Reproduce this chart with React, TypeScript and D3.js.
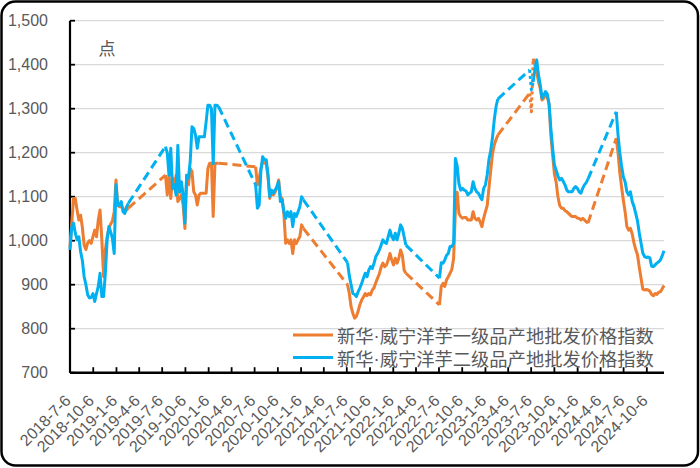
import React from 'react';
import * as d3 from 'd3';

// weekly index values, one array per season (season start dates below)
const seasonStarts = ['2018-07-06', '2019-07-19', '2020-07-10', '2021-07-09', '2022-07-08', '2023-06-30', '2024-06-07'];

const orange2018 = [985, 1040, 1096, 1096, 1070, 1047, 1058, 1030, 990, 980, 995, 1000, 994, 1010, 1024, 1009, 1047, 1070, 1002, 918, 979, 1009, 1028, 1038, 1045, 1066, 1138, 1081, 1077, 1077, 1074, 1066, 1070, 1074];
const orange2019 = [1149, 1104, 1149, 1096, 1142, 1119, 1149, 1089, 1096, 1104, 1081, 1028, 1149, 1127, 1164, 1157, 1111, 1104, 1081, 1104, 1108, 1108, 1108, 1108, 1164, 1176, 1176, 1055, 1176, 1176, 1176];
const orange2020 = [1168, 1127, 1142, 1164, 1180, 1176, 1176, 1145, 1096, 1110, 1104, 1110, 1120, 1138, 1100, 1096, 1060, 994, 1002, 994, 1002, 971, 1002, 994, 1002, 1009, 1036, 1028];
const orange2021 = [900, 880, 850, 835, 824, 828, 840, 855, 865, 872, 880, 875, 880, 877, 888, 893, 905, 915, 925, 940, 949, 941, 945, 956, 971, 956, 945, 960, 949, 960, 979, 967, 933, 926];
const orange2022 = [854, 896, 903, 896, 911, 918, 926, 935, 960, 1070, 1110, 1062, 1055, 1051, 1053, 1053, 1047, 1047, 1047, 1066, 1051, 1047, 1051, 1043, 1032, 1051, 1066, 1080, 1120, 1160, 1198, 1218, 1230, 1240];
const orange2023 = [1335, 1293, 1414, 1399, 1384, 1361, 1346, 1320, 1324, 1331, 1327, 1310, 1240, 1195, 1152, 1133, 1100, 1080, 1074, 1074, 1068, 1066, 1062, 1058, 1055, 1055, 1055, 1051, 1051, 1047, 1051, 1047, 1043, 1040];
const orange2024 = [1233, 1200, 1155, 1122, 1092, 1066, 1032, 1024, 1028, 1016, 995, 980, 968, 940, 915, 890, 888, 889, 888, 885, 878, 875, 880, 878, 883, 884, 891, 898];

const blue2018 = [979, 1032, 1040, 1017, 1002, 1009, 975, 955, 918, 900, 877, 870, 871, 880, 862, 880, 896, 926, 873, 873, 926, 1002, 1032, 1020, 1005, 971, 1127, 1080, 1081, 1089, 1066, 1062, 1077, 1085];
const blue2019 = [1214, 1200, 1149, 1210, 1119, 1127, 1104, 1217, 1110, 1134, 1104, 1040, 1149, 1142, 1180, 1259, 1255, 1240, 1210, 1236, 1236, 1236, 1236, 1270, 1308, 1308, 1300, 1175, 1308, 1308, 1305];
const blue2020 = [1127, 1074, 1081, 1160, 1191, 1184, 1184, 1150, 1100, 1115, 1108, 1115, 1123, 1134, 1089, 1093, 1066, 1051, 1066, 1055, 1066, 1032, 1062, 1055, 1066, 1077, 1100, 1093];
const blue2021 = [950, 920, 900, 880, 878, 873, 884, 893, 903, 915, 926, 918, 933, 941, 937, 949, 964, 971, 979, 990, 1002, 996, 994, 1009, 1024, 1009, 1002, 1017, 1002, 1017, 1036, 1028, 1009, 990];
const blue2022 = [915, 950, 949, 956, 967, 971, 987, 987, 994, 1187, 1170, 1130, 1115, 1119, 1115, 1113, 1104, 1108, 1111, 1134, 1119, 1111, 1108, 1100, 1093, 1119, 1127, 1150, 1185, 1205, 1235, 1275, 1305, 1322];
const blue2023 = [1388, 1343, 1361, 1390, 1411, 1377, 1354, 1324, 1331, 1339, 1333, 1310, 1255, 1210, 1172, 1160, 1147, 1138, 1142, 1135, 1127, 1115, 1111, 1111, 1111, 1119, 1123, 1119, 1111, 1108, 1119, 1127, 1132, 1140];
const blue2024 = [1293, 1240, 1200, 1170, 1145, 1134, 1111, 1104, 1111, 1089, 1078, 1062, 1045, 1018, 995, 972, 964, 962, 963, 961, 942, 941, 945, 949, 952, 956, 966, 977];

const orangeSeasons = [orange2018, orange2019, orange2020, orange2021, orange2022, orange2023, orange2024];
const blueSeasons = [blue2018, blue2019, blue2020, blue2021, blue2022, blue2023, blue2024];

// the short stretch drawn with a dotted line
const dottedSpan = ['2023-06-30', '2023-07-14'];

const tickLabels = ['2018-7-6', '2018-10-6', '2019-1-6', '2019-4-6', '2019-7-6', '2019-10-6', '2020-1-6', '2020-4-6', '2020-7-6', '2020-10-6', '2021-1-6', '2021-4-6', '2021-7-6', '2021-10-6', '2022-1-6', '2022-4-6', '2022-7-6', '2022-10-6', '2023-1-6', '2023-4-6', '2023-7-6', '2023-10-6', '2024-1-6', '2024-4-6', '2024-7-6', '2024-10-6'];
const yTicks = [700, 800, 900, 1000, 1100, 1200, 1300, 1400, 1500];
const seriesNames = ['新华·威宁洋芋一级品产地批发价格指数', '新华·威宁洋芋二级品产地批发价格指数'];
const seriesColors = ['#ED7D31', '#00B0F0'];
const unitLabel = '点';

type P = { date: Date; value: number };

const parseDate = (s: string) => {
	const [yy, mm, dd] = s.split('-').map(Number);
	return new Date(yy, mm - 1, dd);
};

const toSeasons = (seasons: number[][]): P[][] =>
	seasons.map((vals, i) => {
		const start = parseDate(seasonStarts[i]);
		return vals.map((v, j) => ({ date: d3.timeDay.offset(start, 7 * j), value: v }));
	});

const fmt = d3.format(',');

export default function App() {
	const width = 700;
	const height = 468;
	const margin = { left: 70, right: 36, top: 20.7, bottom: 95.3 };

	const series = [toSeasons(orangeSeasons), toSeasons(blueSeasons)];
	const allDates = series.flat(2).map(p => p.date);

	const x = d3.scaleTime()
		.domain(d3.extent(allDates) as [Date, Date])
		.range([margin.left, width - margin.right]);

	const y = d3.scaleLinear()
		.domain([700, 1500])
		.range([height - margin.bottom, margin.top]);

	const line = d3.line<P>()
		.x(p => x(p.date))
		.y(p => y(p.value));

	const dotStart = parseDate(dottedSpan[0]);
	const dotEnd = parseDate(dottedSpan[1]);
	const font = '"Liberation Sans", Arial, sans-serif';
	const cjk = '"Noto Sans CJK SC", "Noto Sans", sans-serif';
	const gray = '#595959';
	const x0 = margin.left;
	const x1 = width - margin.right;
	const yBase = y(700);

	return (
		<svg width={width} height={height} style={{ position: 'absolute', left: 0, top: 0, background: '#fff' }}>
			<rect x={1.5} y={1.5} width={696.5} height={464} rx={14} fill="#fff" stroke="#000" strokeWidth={2.5} />

			{/* gridlines */}
			{yTicks.filter(t => t > 700).map(t => (
				<line key={t} x1={x0} x2={x1} y1={y(t)} y2={y(t)} stroke="#D9D9D9" strokeWidth={1.3} />
			))}

			{/* y axis */}
			<line x1={x0} x2={x0} y1={y(1500)} y2={yBase} stroke="#000" strokeWidth={2.2} />
			{yTicks.map(t => (
				<g key={t}>
					<line x1={x0} x2={x0 + 5} y1={y(t)} y2={y(t)} stroke="#000" strokeWidth={1.8} />
					<text x={48} y={y(t)} textAnchor="end" dominantBaseline="central" fontFamily={font} fontSize={16} fill={gray}>{fmt(t)}</text>
				</g>
			))}

			{/* x axis */}
			<line x1={x0} x2={x1} y1={yBase} y2={yBase} stroke="#000" strokeWidth={2.5} />
			{tickLabels.map(t => {
				const tx = x(parseDate(t));
				return (
					<g key={t}>
						<line x1={tx} x2={tx} y1={yBase} y2={yBase - 5.5} stroke="#000" strokeWidth={1.8} />
						<text transform={`translate(${tx - 2},${yBase + 25}) rotate(-45)`} textAnchor="end" dominantBaseline="central" fontFamily={font} fontSize={16} fill={gray}>{t}</text>
					</g>
				);
			})}

			<text x={107} y={47} textAnchor="middle" dominantBaseline="central" fontFamily={cjk} fontSize={17} fill={gray}>{unitLabel}</text>

			{/* series */}
			{series.map((seasons, si) => (
				<g key={si} fill="none" stroke={seriesColors[si]} strokeWidth={3} strokeLinejoin="round">
					{seasons.map((pts, i) => (
						<path key={'s' + i} d={line(pts.filter(p => p.date < dotStart || p.date >= dotEnd)) || ''} />
					))}
					{seasons.map((pts, i) => {
						const dots = pts.filter(p => p.date >= dotStart && p.date <= dotEnd);
						return dots.length > 1 ? <path key={'d' + i} d={line(dots) || ''} strokeDasharray="3,3" /> : null;
					})}
					{seasons.slice(1).map((pts, i) => (
						<path key={'g' + i} d={line([seasons[i][seasons[i].length - 1], pts[0]]) || ''} strokeDasharray="9,5" />
					))}
				</g>
			))}

			{/* legend */}
			{seriesNames.map((name, i) => {
				const [a, b] = name.split('·');
				return (
					<g key={name} transform={`translate(293,${335 + i * 22.5})`}>
						<line x1={0} x2={40} y1={0} y2={0} stroke={seriesColors[i]} strokeWidth={3} />
						<text x={44} y={0} dominantBaseline="central" fontFamily={cjk} fontSize={18.3} fill={gray}>
							{a}<tspan fontFamily={font}>·</tspan>{b}
						</text>
					</g>
				);
			})}
		</svg>
	);
}
